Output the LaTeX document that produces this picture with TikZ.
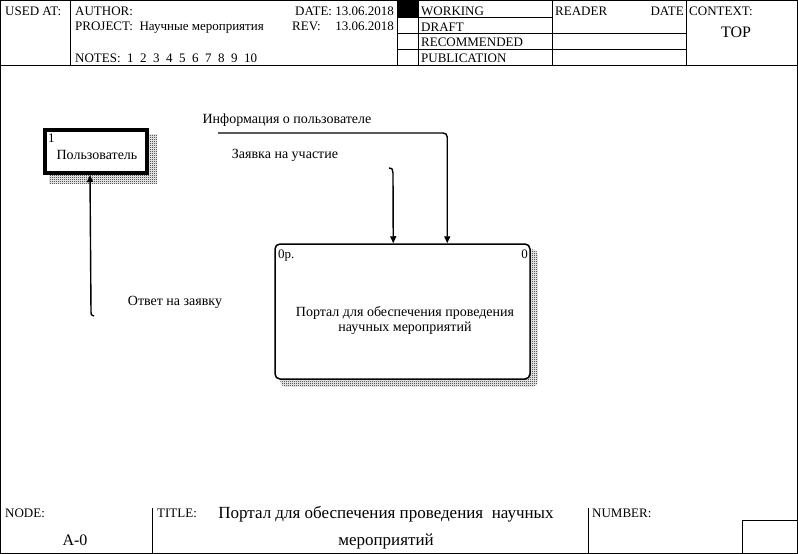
\documentclass[tikz,border=0pt]{standalone}
\usepackage{fontspec}
\setmainfont{Liberation Serif}
\usetikzlibrary{arrows.meta,patterns,calc,backgrounds}
\pgfdeclarepatternformonly{checkdots}{\pgfpointorigin}{\pgfpoint{2pt}{2pt}}{\pgfpoint{2pt}{2pt}}{%
  \pgfpathrectangle{\pgfpointorigin}{\pgfpoint{1pt}{1pt}}%
  \pgfpathrectangle{\pgfpoint{1pt}{1pt}}{\pgfpoint{1pt}{1pt}}%
  \pgfusepath{fill}}
\begin{document}
\begin{tikzpicture}[x=1pt,y=-1pt,
  font=\fontsize{13}{15}\selectfont,
  hdr/.style={anchor=base west, inner sep=0pt},
  hdrr/.style={anchor=base east, inner sep=0pt},
  lbl/.style={inner sep=0pt, font=\fontsize{14}{16}\selectfont},
  big/.style={inner sep=0pt, anchor=base, font=\fontsize{17}{19}\selectfont},
  frameline/.style={line width=0.9pt},
  flow/.style={line width=1.4pt, -{Triangle[length=7pt,width=6pt]}},
  shadow/.style={pattern=checkdots, pattern color=black, draw=none},
  extbox/.style={draw, line width=4pt, fill=white, minimum width=102pt, minimum height=43pt, inner sep=0pt},
  actbox/.style={draw, line width=1.5pt, fill=white, rounded corners=5pt, minimum width=255pt, minimum height=135pt, inner sep=0pt}]
\useasboundingbox (0,0) rectangle (798,554);

% outer frame
\draw[frameline] (0.5,0.5) rectangle (797,553);

% header grid
\draw[frameline] (0.5,65) -- (797,65);
\draw[frameline] (70,0.5) -- (70,65);
\draw[frameline] (397,0.5) -- (397,65);
\draw[frameline] (418,0.5) -- (418,65);
\draw[frameline] (552,0.5) -- (552,65);
\draw[frameline] (686,0.5) -- (686,65);
\draw[frameline] (397,17) -- (552,17);
\draw[frameline] (397,33) -- (686,33);
\draw[frameline] (397,49) -- (686,49);
\fill (397,0.5) rectangle (418,17);

% header texts
\node[hdr] (usedat) at (5,15) {USED AT:};
\node[hdr] (author) at (75,15) {AUTHOR:};
\node[hdrr] (date) at (394,15) {DATE: 13.06.2018};
\node[hdr] (project) at (75,30) {PROJECT:\ \ Научные мероприятия};
\node[hdr] (rev) at (292,30) {REV:};
\node[hdrr] (revdate) at (394,30) {13.06.2018};
\node[hdr] (notes) at (75,62) {NOTES:\ \ 1\ \ 2\ \ 3\ \ 4\ \ 5\ \ 6\ \ 7\ \ 8\ \ 9\ \ 10};
\node[hdr] (working) at (421,15) {WORKING};
\node[hdr] (draft) at (421,31) {DRAFT};
\node[hdr] (recom) at (421,46) {RECOMMENDED};
\node[hdr] (public) at (421,62) {PUBLICATION};
\node[hdr] (reader) at (555,15) {READER};
\node[hdrr] (rdate) at (684,15) {DATE};
\node[hdr] (context) at (689,15) {CONTEXT:};
\node[big, font=\fontsize{16}{18}\selectfont] (top) at (736,37) {TOP};

% footer
\draw[frameline] (152,508) -- (152,553);
\draw[frameline] (588,508) -- (588,553);
\draw[frameline] (742,520) rectangle (797,553);
\node[hdr] (nodelbl) at (5,517) {NODE:};
\node[big, font=\fontsize{16}{18}\selectfont] (nodeval) at (75,545) {A-0};
\node[hdr] (titlelbl) at (157,517) {TITLE:};
\node[big] (title1) at (386,518) {Портал для обеспечения проведения\ \ научных};
\node[big] (title2) at (386,545) {мероприятий};
\node[hdr] (numberlbl) at (592,517) {NUMBER:};

% boxes
\node[extbox] (user) at (96,151.5) {};
\node[lbl, anchor=base west, font=\fontsize{13}{15}\selectfont] (usernum) at (48,142) {1};
\node[lbl] (usertxt) at (97,155) {Пользователь};

\node[actbox] (a0) at (402.5,311.5) {};
\node[lbl, anchor=base west, font=\fontsize{13}{15}\selectfont] (a0tl) at (278,258) {0р.};
\node[lbl, anchor=base east, font=\fontsize{13}{15}\selectfont] (a0tr) at (528,258) {0};
\node[lbl, align=center, font=\fontsize{14}{15}\selectfont] (a0txt) at (405,320) {Портал для обеспечения проведения\\научных мероприятий};

\begin{scope}[on background layer]
  \fill[shadow] ($(user.north west)+(6,6)$) rectangle ($(user.south east)+(8,8)$);
  \fill[shadow, rounded corners=5pt] ($(a0.north west)+(6,6)$) rectangle ($(a0.south east)+(7,7)$);
\end{scope}

% connectors
\coordinate (infoS) at (218,133);
\coordinate (infoE) at ($(a0.north west)+(173,0)$);
\draw[flow, rounded corners=4pt] (infoS) -| (infoE);

\coordinate (zS) at (389,168);
\coordinate (zE) at ($(a0.north west)+(119,0)$);
\draw[flow] (zS) .. controls (392,168) .. (393,173) -- (zE);

\coordinate (oS) at (94,316);
\coordinate (oE) at ($(user.south west)+(47,0)$);
\draw[flow] (oS) .. controls (91,315) .. (91,312) -- (oE);

% labels
\node[lbl] (infolbl) at (287,120) {Информация о пользователе};
\node[lbl] (zlbl) at (285,155) {Заявка на участие};
\node[lbl] (olbl) at (175,302) {Ответ на заявку};
\end{tikzpicture}
\end{document}
